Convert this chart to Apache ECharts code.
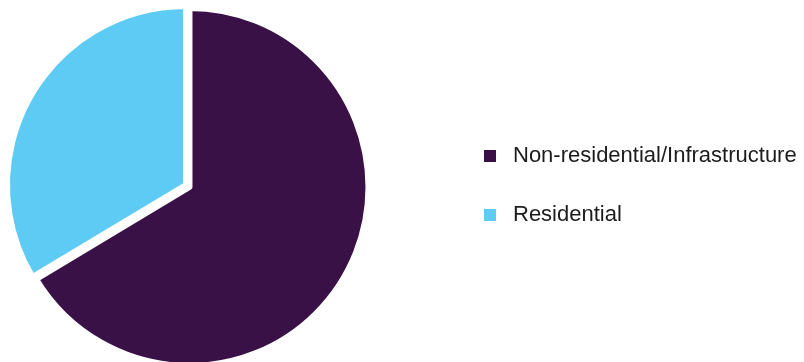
<!DOCTYPE html>
<html>
<head>
<meta charset="utf-8">
<script src="https://cdn.jsdelivr.net/npm/echarts@6/dist/echarts.min.js"></script>
<style>
  html, body { margin: 0; padding: 0; background: #fff; }
  #chart { width: 804px; height: 362px; }
</style>
</head>
<body>
<div id="chart"></div>
<script>
// Share of market by end use
const categories = ['Non-residential/Infrastructure', 'Residential'];
const shares = [66.4, 33.6];
const colors = ['#3a1146', '#5ecbf5'];

const chart = echarts.init(document.getElementById('chart'));

chart.setOption({
    animation: false,
    backgroundColor: '#fff',
    legend: {
        orient: 'vertical',
        left: 477,
        top: 140,
        itemWidth: 14,
        itemHeight: 14,
        itemGap: 37,
        icon: 'rect',
        data: categories,
        textStyle: {
            fontFamily: 'Liberation Sans',
            fontSize: 22,
            color: '#1c1c1c',
            padding: [0, 0, 0, 11]
        }
    },
    series: [
        {
            type: 'pie',
            center: [186, 185],
            radius: 179,
            startAngle: 90,
            clockwise: true,
            selectedMode: 'single',
            selectedOffset: 4,
            label: { show: false },
            labelLine: { show: false },
            itemStyle: {
                borderColor: '#fff',
                borderWidth: 6
            },
            data: categories.map((name, i) => ({
                name: name,
                value: shares[i],
                selected: i === 0,
                itemStyle: { color: colors[i] }
            }))
        }
    ]
});
</script>
</body>
</html>
